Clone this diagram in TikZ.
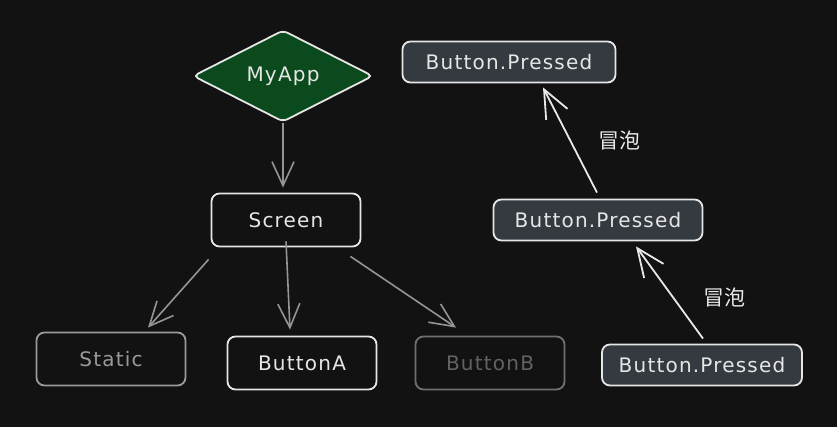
\documentclass[tikz,border=0pt]{standalone}
\usepackage{fontspec}
\setmainfont{DejaVu Sans}[LetterSpace=6]
\newfontfamily\cjk{Noto Sans CJK SC}
\usetikzlibrary{shapes.geometric,arrows.meta}
\definecolor{bg}{HTML}{121212}
\definecolor{appgreen}{HTML}{0B4A1C}
\definecolor{slate}{HTML}{343A40}
\definecolor{ink}{HTML}{E6E6E6}
\definecolor{dimgray}{HTML}{9A9A9A}
\definecolor{faintgray}{HTML}{707070}
\definecolor{wire}{HTML}{959595}
\tikzset{
    base/.style={draw=ink, text=ink, line width=1.8pt, rounded corners=8pt,
        minimum width=149pt, minimum height=53pt, font=\fontsize{20}{23}\selectfont},
    root/.style={base, diamond, fill=appgreen, rounded corners=5pt, inner sep=0pt,
        minimum width=180pt, minimum height=66pt},
    dim/.style={base, draw=dimgray, text=dimgray},
    faint/.style={base, draw=faintgray, text=faintgray!110},
    pressed/.style={base, fill=slate, minimum height=41pt},
    tree/.style={draw=wire, line width=1.6pt, -{Straight Barb[length=24pt,width=22pt]}},
    bubble/.style={draw=ink!90, line width=1.8pt, -{Straight Barb[length=28pt,width=24pt]}},
    lbl/.style={text=ink!90, font=\cjk\fontsize{21}{24}\selectfont},
}
\begin{document}
\begin{tikzpicture}[x=1pt, y=-1pt]
    \fill[bg] (0,0) rectangle (837,427);
    \useasboundingbox (0,0) rectangle (837,427);

    \node[root] (app) at (283,76) {MyApp};
    \node[base] (scr) at (286,220) {Screen};
    \node[dim] (sta) at (111,359) {Static};
    \node[base] (btna) at (302,363) {ButtonA};
    \node[faint] (btnb) at (490,363) {ButtonB};

    \node[pressed, minimum width=213pt] (top) at (509,62) {Button.Pressed};
    \node[pressed, minimum width=209pt] (mid) at (598,220) {Button.Pressed};
    \node[pressed, minimum width=200pt] (bot) at (702,365) {Button.Pressed};

    \draw[tree, shorten >=5pt] (app) -- ([xshift=-3]scr.north);
    \draw[tree] ([shift={(-2,12)}]scr.south west) -- ([shift={(37,-4)}]sta.north);
    \draw[tree] ([yshift=6]scr.south) -- ([shift={(-12,-6)}]btna.north);
    \draw[tree] ([shift={(-11,9)}]scr.south east) -- ([shift={(-34,-8)}]btnb.north);

    \draw[bubble] ([shift={(-1,-6)}]mid.north) -- ([shift={(34,4)}]top.south)
        node[lbl, midway, right=24pt] (up1) {冒泡};
    \draw[bubble] ([shift={(1,-5)}]bot.north) -- ([shift={(38,5)}]mid.south)
        node[lbl, midway, right=30pt, yshift=-5pt] (up2) {冒泡};
\end{tikzpicture}
\end{document}
